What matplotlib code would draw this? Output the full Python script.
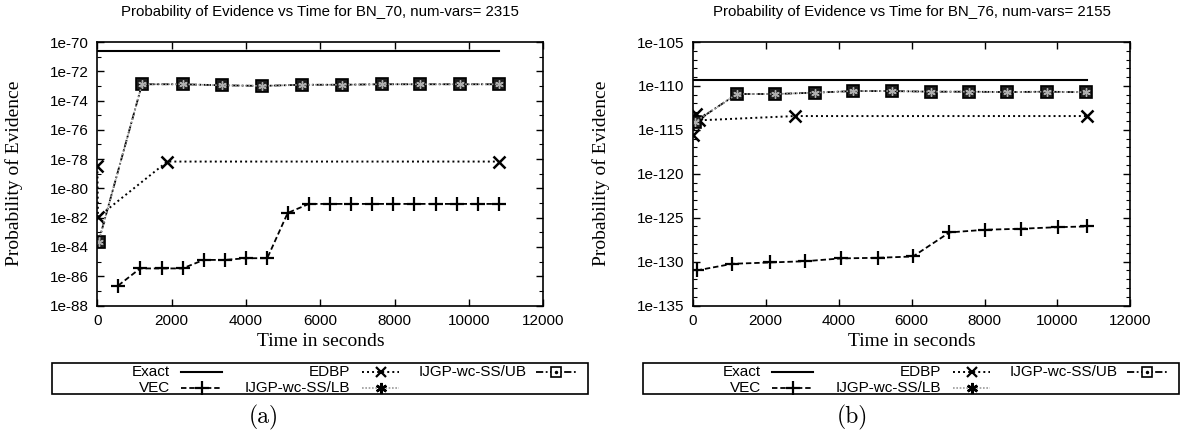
import numpy as np
import matplotlib.pyplot as plt
from matplotlib.lines import Line2D
from matplotlib.patches import Rectangle
from matplotlib.ticker import FixedLocator, FuncFormatter, NullFormatter

plt.rcParams['font.family'] = ['Liberation Sans', 'DejaVu Sans']

W, H = 1180, 430

# ---- BN_70 (num-vars = 2315) ----
bn70_exact_t = [0, 10800]
bn70_exact = [2.3e-71, 2.3e-71]
bn70_vec_t = [560, 1150, 1730, 2290, 2860, 3430, 4000, 4570, 5120, 5690,
              6250, 6820, 7380, 7960, 8530, 9100, 9670, 10230, 10800]
bn70_vec = [2.3e-87, 3.4e-86, 3.4e-86, 3.4e-86, 1.3e-85, 1.3e-85, 1.7e-85, 1.7e-85,
            2.1e-82, 8.7e-82, 8.7e-82, 8.7e-82, 8.7e-82, 8.7e-82, 8.7e-82,
            8.7e-82, 8.7e-82, 8.7e-82, 8.7e-82]
bn70_edbp_t = [0, 15, 1880, 10800]
bn70_edbp = [3.2e-79, 1.1e-82, 6.8e-79, 6.8e-79]
bn70_ss_t = [30, 1200, 2290, 3360, 4440, 5500, 6580, 7650, 8690, 9750, 10800]
bn70_ss_ub = [2.2e-84, 1.3e-73, 1.3e-73, 1.1e-73, 1.0e-73, 1.2e-73, 1.2e-73,
              1.3e-73, 1.3e-73, 1.3e-73, 1.3e-73]
bn70_ss_lb = [2.2e-84, 1.3e-73, 1.3e-73, 1.1e-73, 1.0e-73, 1.2e-73, 1.2e-73,
              1.3e-73, 1.3e-73, 1.3e-73, 1.3e-73]

# ---- BN_76 (num-vars = 2155) ----
bn76_exact_t = [0, 10800]
bn76_exact = [5.2e-110, 5.2e-110]
bn76_vec_t = [110, 1090, 2120, 3080, 4070, 5070, 6040, 7040, 8020, 9010, 10010, 10800]
bn76_vec = [9.8e-132, 5.6e-131, 7.9e-131, 1.1e-130, 2.3e-130, 2.7e-130, 3.8e-130,
            2.1e-127, 4.2e-127, 5.5e-127, 8.3e-127, 1.0e-126]
bn76_edbp_t = [10, 90, 160, 2800, 10800]
bn76_edbp = [2.3e-116, 6.9e-114, 1.2e-114, 3.7e-114, 3.7e-114]
bn76_ss_t = [60, 1210, 2260, 3340, 4400, 5460, 6530, 7580, 8630, 9700, 10770]
bn76_ss_ub = [7.8e-115, 1.2e-111, 1.2e-111, 1.7e-111, 2.6e-111, 2.6e-111,
              2.2e-111, 2.2e-111, 2.0e-111, 2.2e-111, 1.9e-111]
bn76_ss_lb = [7.8e-115, 1.2e-111, 1.2e-111, 1.7e-111, 2.6e-111, 2.6e-111,
              2.2e-111, 2.2e-111, 2.0e-111, 2.2e-111, 1.9e-111]

x_ticks = [0, 2000, 4000, 6000, 8000, 10000, 12000]

ASTERISK = (6, 2, 0)

# line styles, shared by the plot and the key
STY = {
    'Exact': dict(color='black', lw=1.5, ls='-'),
    'VEC': dict(color='black', lw=1.3, ls=(0, (3, 1.6)), marker='+', ms=10, mew=1.6),
    'EDBP': dict(color='black', lw=1.4, ls=(0, (1, 1.6)), marker='x', ms=8, mew=1.8),
    'IJGP-wc-SS/LB': dict(color='#9a9a9a', lw=1.2, ls=(0, (1, 1)), marker=ASTERISK, ms=6,
                          mew=1.0, mfc='#b0b0b0', mec='#b0b0b0'),
    'IJGP-wc-SS/UB': dict(color='black', lw=1.3, ls=(0, (4, 1.4, 1, 1.4)), marker='s',
                          ms=9, mew=1.2, mfc='#1c1c1c', mec='black'),
}


def panel(ax, title, d, ylo, yhi, step, minor_step):
    ax.plot(d['exact_t'], d['exact'], **STY['Exact'])
    ax.plot(d['vec_t'], d['vec'], **STY['VEC'])
    ax.plot(d['edbp_t'], d['edbp'], **STY['EDBP'])
    ax.plot(d['ss_t'], d['ss_ub'], **STY['IJGP-wc-SS/UB'])
    ax.plot(d['ss_t'], d['ss_lb'], **STY['IJGP-wc-SS/LB'])

    ax.set_yscale('log')
    ax.set_ylim(10.0 ** ylo, 10.0 ** yhi)
    ax.set_xlim(0, 12000)
    ax.set_xticks(x_ticks)
    ax.yaxis.set_major_locator(FixedLocator(10.0 ** np.arange(ylo, yhi + 1, step)))
    ax.yaxis.set_major_formatter(FuncFormatter(lambda v, p: '1e%d' % round(np.log10(v))))
    minors = [e for e in range(ylo, yhi + 1, minor_step) if (e - ylo) % step]
    ax.yaxis.set_minor_locator(FixedLocator(10.0 ** np.array(minors, dtype=float)))
    ax.yaxis.set_minor_formatter(NullFormatter())

    ax.tick_params(which='both', direction='in', top=True, right=True, labelsize=11, pad=6)
    ax.tick_params(which='major', length=5, width=1)
    ax.tick_params(which='minor', length=3, width=0.8)
    for s in ax.spines.values():
        s.set_linewidth(1.2)

    ax.set_title(title, fontsize=10.8, y=1.083, va='center')
    ax.set_xlabel('Time in seconds', family=['Liberation Serif'], fontsize=14, va='center')
    ax.xaxis.set_label_coords(0.5, -0.137)
    ax.set_ylabel('Probability of Evidence', family=['Liberation Serif'], fontsize=14,
                  va='center')


def draw_key(fig, ox):
    tf = fig.transFigure
    fx = lambda x: (x + ox) / W
    fy = lambda y: 1 - y / H
    fig.add_artist(Rectangle((fx(52), fy(394)), 536 / W, 31 / H, transform=tf,
                             fill=False, lw=1.2, ec='black'))
    rows = [371.7, 388.3]
    cols = [(170, 181, 222), (350, 362, 399), (527, 536, 576)]
    entries = [('Exact', 0, 0), ('VEC', 0, 1), ('EDBP', 1, 0),
               ('IJGP-wc-SS/LB', 1, 1), ('IJGP-wc-SS/UB', 2, 0)]
    for name, c, r in entries:
        tx, xa, xb = cols[c]
        y = rows[r]
        fig.text(fx(tx), fy(y), name, ha='right', va='center', fontsize=11)
        st = dict(STY[name])
        mk = {k: st.pop(k) for k in ('marker', 'ms', 'mew', 'mfc', 'mec') if k in st}
        fig.add_artist(Line2D([fx(xa), fx(xb)], [fy(y), fy(y)], transform=tf, **st))
        if mk:
            if name == 'IJGP-wc-SS/UB':
                mk.update(mfc='white', ms=7)
            if name == 'IJGP-wc-SS/LB':
                mk.update(mfc='black', mec='black', ms=8, mew=1.8)
            if name == 'EDBP':
                mk.update(ms=7, mew=1.6)
            fig.add_artist(Line2D([fx((xa + xb) / 2)], [fy(y)], transform=tf, ls='none',
                                  color='black', **mk))
            if name == 'IJGP-wc-SS/UB':
                fig.add_artist(Line2D([fx((xa + xb) / 2)], [fy(y)], transform=tf, ls='none',
                                      marker='.', ms=3, color='black'))


fig = plt.figure(figsize=(W / 100, H / 100), dpi=100)
ax1 = fig.add_axes([97.4 / W, 1 - 305.5 / H, 446 / W, 263.5 / H])
ax2 = fig.add_axes([692.7 / W, 1 - 305.5 / H, 437.7 / W, 263.5 / H])

bn70 = dict(exact_t=bn70_exact_t, exact=bn70_exact, vec_t=bn70_vec_t, vec=bn70_vec,
            edbp_t=bn70_edbp_t, edbp=bn70_edbp, ss_t=bn70_ss_t, ss_ub=bn70_ss_ub,
            ss_lb=bn70_ss_lb)
bn76 = dict(exact_t=bn76_exact_t, exact=bn76_exact, vec_t=bn76_vec_t, vec=bn76_vec,
            edbp_t=bn76_edbp_t, edbp=bn76_edbp, ss_t=bn76_ss_t, ss_ub=bn76_ss_ub,
            ss_lb=bn76_ss_lb)

panel(ax1, 'Probability of Evidence vs Time for BN_70, num-vars= 2315', bn70, -88, -70, 2, 1)
panel(ax2, 'Probability of Evidence vs Time for BN_76, num-vars= 2155', bn76, -135, -105, 5, 1)
ax1.yaxis.set_label_coords(-0.187, 0.5)
ax2.yaxis.set_label_coords(-0.2095, 0.5)

draw_key(fig, 0)
draw_key(fig, 591)

fig.text(264 / W, 1 - 417 / H, '(a)', family=['cmr10'], fontsize=17, ha='center', va='center')
fig.text(852 / W, 1 - 417 / H, '(b)', family=['cmr10'], fontsize=17, ha='center', va='center')

fig.savefig('out.png', dpi=100)
